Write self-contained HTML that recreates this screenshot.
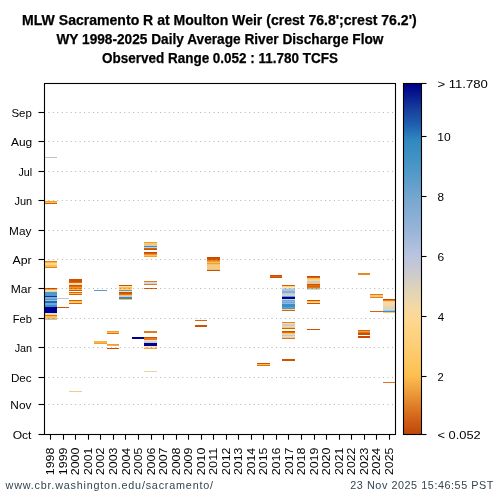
<!DOCTYPE html><html><head><meta charset="utf-8"><style>html,body{margin:0;padding:0;background:#fff;width:500px;height:500px;overflow:hidden}svg{display:block;will-change:transform}text{font-family:"Liberation Sans",sans-serif}</style></head><body>
<svg width="500" height="500" viewBox="0 0 500 500">
<defs><linearGradient id="cb" x1="0" y1="0" x2="0" y2="1" gradientUnits="objectBoundingBox">
<stop offset="0.0014" stop-color="#00008a"/>
<stop offset="0.0385" stop-color="#0a2090"/>
<stop offset="0.0755" stop-color="#1840a0"/>
<stop offset="0.1182" stop-color="#2060b0"/>
<stop offset="0.1610" stop-color="#3088c0"/>
<stop offset="0.2464" stop-color="#4e98c8"/>
<stop offset="0.3319" stop-color="#78a8d0"/>
<stop offset="0.4174" stop-color="#98b4d8"/>
<stop offset="0.4886" stop-color="#b8c4e0"/>
<stop offset="0.5313" stop-color="#c8c8d0"/>
<stop offset="0.5883" stop-color="#e0d4b8"/>
<stop offset="0.6453" stop-color="#f8d8a0"/>
<stop offset="0.6738" stop-color="#fdd890"/>
<stop offset="0.7593" stop-color="#fdcc70"/>
<stop offset="0.8305" stop-color="#fdc050"/>
<stop offset="0.8732" stop-color="#f0a040"/>
<stop offset="0.9160" stop-color="#e08028"/>
<stop offset="0.9587" stop-color="#d06018"/>
<stop offset="0.9986" stop-color="#c04808"/>
</linearGradient></defs>
<rect x="0" y="0" width="500" height="500" fill="#fff"/>
<g font-weight="bold" fill="#000" stroke="#000" stroke-width="0.25">
<text x="22.07" y="24.60" font-size="14.30" textLength="394.63" lengthAdjust="spacingAndGlyphs">MLW Sacramento R at Moulton Weir (crest 76.8';crest 76.2')</text>
<text x="56.47" y="44.10" font-size="14.30" textLength="326.99" lengthAdjust="spacingAndGlyphs">WY 1998-2025 Daily Average River Discharge Flow</text>
<text x="102.03" y="63.10" font-size="14.30" textLength="235.98" lengthAdjust="spacingAndGlyphs">Observed Range 0.052 : 11.780 TCFS</text>
</g>
<rect x="44" y="157" width="13" height="1" fill="#c8c0b8"/>
<rect x="44" y="201" width="13" height="1" fill="#f0a030"/>
<rect x="44" y="202" width="13" height="1" fill="#fdc050"/>
<rect x="44" y="203" width="13" height="1" fill="#d86000"/>
<rect x="44" y="261" width="13" height="1" fill="#e88020"/>
<rect x="44" y="262" width="13" height="1" fill="#fdb848"/>
<rect x="44" y="263" width="13" height="2" fill="#fdd890"/>
<rect x="44" y="265" width="13" height="2" fill="#fdc050"/>
<rect x="44" y="267" width="13" height="1" fill="#e88020"/>
<rect x="44" y="288" width="13" height="1" fill="#d85000"/>
<rect x="44" y="289" width="13" height="1" fill="#f5a030"/>
<rect x="44" y="290" width="13" height="1" fill="#fde0a0"/>
<rect x="44" y="291" width="13" height="1" fill="#c8d8e8"/>
<rect x="44" y="292" width="13" height="4" fill="#5098c8"/>
<rect x="44" y="296" width="13" height="1" fill="#1030a0"/>
<rect x="44" y="297" width="13" height="2" fill="#78b0d8"/>
<rect x="44" y="299" width="13" height="1" fill="#5098c8"/>
<rect x="44" y="300" width="13" height="1" fill="#a0c0e0"/>
<rect x="44" y="301" width="13" height="2" fill="#2068b8"/>
<rect x="44" y="303" width="13" height="2" fill="#70a8d8"/>
<rect x="44" y="305" width="13" height="2" fill="#3a90c8"/>
<rect x="44" y="307" width="13" height="6" fill="#000090"/>
<rect x="44" y="313" width="13" height="1" fill="#d0e0f0"/>
<rect x="44" y="314" width="13" height="1" fill="#fdd890"/>
<rect x="44" y="315" width="13" height="1" fill="#e07010"/>
<rect x="44" y="316" width="13" height="3" fill="#fdc050"/>
<rect x="44" y="319" width="13" height="1" fill="#a8c8e8"/>
<rect x="57" y="298" width="12" height="1" fill="#c8c8c8"/>
<rect x="57" y="307" width="12" height="1" fill="#d05000"/>
<rect x="69" y="279" width="13" height="3" fill="#d05000"/>
<rect x="69" y="282" width="13" height="1" fill="#e06810"/>
<rect x="69" y="283" width="13" height="2" fill="#fde0a0"/>
<rect x="69" y="285" width="13" height="1" fill="#d05000"/>
<rect x="69" y="286" width="13" height="1" fill="#e07018"/>
<rect x="69" y="287" width="13" height="1" fill="#f09030"/>
<rect x="69" y="288" width="13" height="1" fill="#e88020"/>
<rect x="69" y="289" width="13" height="1" fill="#fdc050"/>
<rect x="69" y="290" width="13" height="1" fill="#d05000"/>
<rect x="69" y="292" width="13" height="1" fill="#e06010"/>
<rect x="69" y="293" width="13" height="1" fill="#fdc050"/>
<rect x="69" y="294" width="13" height="1" fill="#d86000"/>
<rect x="69" y="300" width="13" height="1" fill="#d86000"/>
<rect x="69" y="301" width="13" height="1" fill="#fdc060"/>
<rect x="69" y="302" width="13" height="1" fill="#fdd080"/>
<rect x="69" y="303" width="13" height="1" fill="#d86000"/>
<rect x="69" y="391" width="13" height="1" fill="#f5c890"/>
<rect x="94" y="290" width="13" height="1" fill="#5a9ad0"/>
<rect x="94" y="341" width="13" height="2" fill="#f8b444"/>
<rect x="94" y="343" width="13" height="1" fill="#f0a030"/>
<rect x="107" y="331" width="12" height="1" fill="#f0a030"/>
<rect x="107" y="332" width="12" height="1" fill="#fdc050"/>
<rect x="107" y="333" width="12" height="1" fill="#e07010"/>
<rect x="107" y="344" width="12" height="1" fill="#f0a030"/>
<rect x="107" y="345" width="12" height="1" fill="#f5b040"/>
<rect x="107" y="348" width="12" height="1" fill="#d05000"/>
<rect x="119" y="285" width="13" height="1" fill="#d05000"/>
<rect x="119" y="286" width="13" height="1" fill="#fde0b0"/>
<rect x="119" y="287" width="13" height="2" fill="#fdc050"/>
<rect x="119" y="289" width="13" height="1" fill="#fdd080"/>
<rect x="119" y="290" width="13" height="1" fill="#5a9ad0"/>
<rect x="119" y="291" width="13" height="1" fill="#fde0a0"/>
<rect x="119" y="292" width="13" height="1" fill="#c85000"/>
<rect x="119" y="293" width="13" height="1" fill="#d05808"/>
<rect x="119" y="294" width="13" height="1" fill="#e07818"/>
<rect x="119" y="295" width="13" height="1" fill="#fdc060"/>
<rect x="119" y="296" width="13" height="1" fill="#c8d0d8"/>
<rect x="119" y="297" width="13" height="2" fill="#3a88c8"/>
<rect x="119" y="299" width="13" height="1" fill="#fdc040"/>
<rect x="132" y="337" width="12" height="2" fill="#000090"/>
<rect x="144" y="242" width="13" height="1" fill="#f0a030"/>
<rect x="144" y="243" width="13" height="2" fill="#fdc860"/>
<rect x="144" y="245" width="13" height="1" fill="#c8d0d8"/>
<rect x="144" y="246" width="13" height="1" fill="#3a90c8"/>
<rect x="144" y="247" width="13" height="1" fill="#c0d0e0"/>
<rect x="144" y="248" width="13" height="1" fill="#d86010"/>
<rect x="144" y="249" width="13" height="1" fill="#d05000"/>
<rect x="144" y="252" width="13" height="1" fill="#c84800"/>
<rect x="144" y="253" width="13" height="1" fill="#d86010"/>
<rect x="144" y="254" width="13" height="1" fill="#f09030"/>
<rect x="144" y="255" width="13" height="1" fill="#fdc060"/>
<rect x="144" y="256" width="13" height="1" fill="#f5a030"/>
<rect x="144" y="281" width="13" height="1" fill="#e87818"/>
<rect x="144" y="282" width="13" height="1" fill="#d8d8e0"/>
<rect x="144" y="283" width="13" height="1" fill="#c8d8e8"/>
<rect x="144" y="284" width="13" height="1" fill="#e87818"/>
<rect x="144" y="288" width="13" height="1" fill="#d86010"/>
<rect x="144" y="331" width="13" height="2" fill="#e87818"/>
<rect x="144" y="337" width="13" height="1" fill="#d05000"/>
<rect x="144" y="338" width="13" height="2" fill="#e87818"/>
<rect x="144" y="340" width="13" height="1" fill="#f0e0c8"/>
<rect x="144" y="341" width="13" height="1" fill="#d8d8d8"/>
<rect x="144" y="342" width="13" height="1" fill="#c0d0e0"/>
<rect x="144" y="343" width="13" height="3" fill="#000090"/>
<rect x="144" y="346" width="13" height="1" fill="#f8e8c8"/>
<rect x="144" y="347" width="13" height="1" fill="#fde0a0"/>
<rect x="144" y="348" width="13" height="1" fill="#f5a030"/>
<rect x="144" y="371" width="13" height="1" fill="#f0d0a0"/>
<rect x="195" y="320" width="12" height="1" fill="#d86010"/>
<rect x="195" y="325" width="12" height="2" fill="#d05000"/>
<rect x="207" y="257" width="13" height="1" fill="#c84800"/>
<rect x="207" y="258" width="13" height="1" fill="#d05000"/>
<rect x="207" y="259" width="13" height="1" fill="#d86010"/>
<rect x="207" y="260" width="13" height="1" fill="#e88020"/>
<rect x="207" y="261" width="13" height="1" fill="#f0a030"/>
<rect x="207" y="262" width="13" height="1" fill="#fdc050"/>
<rect x="207" y="263" width="13" height="1" fill="#f0a030"/>
<rect x="207" y="264" width="13" height="1" fill="#fdc060"/>
<rect x="207" y="265" width="13" height="1" fill="#d8d0c0"/>
<rect x="207" y="266" width="13" height="2" fill="#fdc870"/>
<rect x="207" y="268" width="13" height="1" fill="#d8d0c0"/>
<rect x="207" y="269" width="13" height="1" fill="#fdc050"/>
<rect x="207" y="270" width="13" height="1" fill="#d05000"/>
<rect x="257" y="363" width="13" height="1" fill="#d05000"/>
<rect x="257" y="364" width="13" height="1" fill="#fdc050"/>
<rect x="257" y="365" width="13" height="1" fill="#e07010"/>
<rect x="270" y="275" width="12" height="1" fill="#d05000"/>
<rect x="270" y="276" width="12" height="1" fill="#e06010"/>
<rect x="270" y="277" width="12" height="1" fill="#d05000"/>
<rect x="282" y="285" width="13" height="1" fill="#d86000"/>
<rect x="282" y="286" width="13" height="1" fill="#fdd080"/>
<rect x="282" y="287" width="13" height="1" fill="#fde8c0"/>
<rect x="282" y="288" width="13" height="1" fill="#d0d8e0"/>
<rect x="282" y="289" width="13" height="2" fill="#a8c4e0"/>
<rect x="282" y="291" width="13" height="2" fill="#80b0d8"/>
<rect x="282" y="293" width="13" height="1" fill="#b8c8d8"/>
<rect x="282" y="294" width="13" height="2" fill="#d0d0d0"/>
<rect x="282" y="296" width="13" height="1" fill="#60a0d0"/>
<rect x="282" y="297" width="13" height="2" fill="#000090"/>
<rect x="282" y="299" width="13" height="1" fill="#c8d8e8"/>
<rect x="282" y="300" width="13" height="1" fill="#70a8d8"/>
<rect x="282" y="301" width="13" height="1" fill="#88b8e0"/>
<rect x="282" y="302" width="13" height="1" fill="#70a8d8"/>
<rect x="282" y="303" width="13" height="1" fill="#90b8e0"/>
<rect x="282" y="304" width="13" height="3" fill="#3890c8"/>
<rect x="282" y="307" width="13" height="1" fill="#60a0d0"/>
<rect x="282" y="308" width="13" height="1" fill="#4898d0"/>
<rect x="282" y="309" width="13" height="1" fill="#fdd890"/>
<rect x="282" y="310" width="13" height="1" fill="#d86000"/>
<rect x="282" y="322" width="13" height="1" fill="#e88020"/>
<rect x="282" y="323" width="13" height="1" fill="#e8dcc8"/>
<rect x="282" y="324" width="13" height="2" fill="#ccccd0"/>
<rect x="282" y="326" width="13" height="1" fill="#e8d8b0"/>
<rect x="282" y="327" width="13" height="1" fill="#fdc860"/>
<rect x="282" y="328" width="13" height="1" fill="#d86000"/>
<rect x="282" y="331" width="13" height="1" fill="#c85000"/>
<rect x="282" y="332" width="13" height="1" fill="#e07010"/>
<rect x="282" y="333" width="13" height="1" fill="#fdc050"/>
<rect x="282" y="334" width="13" height="1" fill="#f0d8b0"/>
<rect x="282" y="335" width="13" height="1" fill="#c0c8d8"/>
<rect x="282" y="336" width="13" height="1" fill="#e8dcc0"/>
<rect x="282" y="337" width="13" height="1" fill="#e0d0b0"/>
<rect x="282" y="338" width="13" height="1" fill="#e07018"/>
<rect x="282" y="359" width="13" height="2" fill="#d05000"/>
<rect x="307" y="276" width="13" height="1" fill="#c84800"/>
<rect x="307" y="277" width="13" height="1" fill="#d86010"/>
<rect x="307" y="278" width="13" height="1" fill="#fdc060"/>
<rect x="307" y="279" width="13" height="1" fill="#fdd080"/>
<rect x="307" y="280" width="13" height="1" fill="#fdd890"/>
<rect x="307" y="281" width="13" height="2" fill="#c8ccd8"/>
<rect x="307" y="283" width="13" height="1" fill="#fdc860"/>
<rect x="307" y="284" width="13" height="1" fill="#d05000"/>
<rect x="307" y="285" width="13" height="1" fill="#e07010"/>
<rect x="307" y="286" width="13" height="1" fill="#d86010"/>
<rect x="307" y="287" width="13" height="1" fill="#e07818"/>
<rect x="307" y="288" width="13" height="1" fill="#90c0e0"/>
<rect x="307" y="289" width="13" height="1" fill="#fdd080"/>
<rect x="307" y="300" width="13" height="1" fill="#d05000"/>
<rect x="307" y="301" width="13" height="1" fill="#fdc050"/>
<rect x="307" y="302" width="13" height="1" fill="#fdd890"/>
<rect x="307" y="303" width="13" height="1" fill="#d05000"/>
<rect x="307" y="329" width="13" height="1" fill="#d05000"/>
<rect x="358" y="273" width="12" height="2" fill="#e88820"/>
<rect x="358" y="330" width="12" height="1" fill="#d86010"/>
<rect x="358" y="331" width="12" height="1" fill="#f5a030"/>
<rect x="358" y="332" width="12" height="1" fill="#e07010"/>
<rect x="358" y="333" width="12" height="2" fill="#c85000"/>
<rect x="358" y="336" width="12" height="2" fill="#c84800"/>
<rect x="370" y="294" width="13" height="1" fill="#e07818"/>
<rect x="370" y="295" width="13" height="2" fill="#fdc870"/>
<rect x="370" y="297" width="13" height="1" fill="#e88020"/>
<rect x="370" y="311" width="13" height="1" fill="#d86010"/>
<rect x="383" y="299" width="12" height="1" fill="#c84800"/>
<rect x="383" y="300" width="12" height="1" fill="#e88020"/>
<rect x="383" y="301" width="12" height="1" fill="#fdc870"/>
<rect x="383" y="302" width="12" height="1" fill="#f0dcc0"/>
<rect x="383" y="303" width="12" height="2" fill="#fdd890"/>
<rect x="383" y="305" width="12" height="1" fill="#f0d8b0"/>
<rect x="383" y="306" width="12" height="4" fill="#e0d4bc"/>
<rect x="383" y="310" width="12" height="1" fill="#a8c8e0"/>
<rect x="383" y="311" width="12" height="1" fill="#3a90d0"/>
<rect x="383" y="312" width="12" height="1" fill="#fdc860"/>
<rect x="383" y="382" width="12" height="1" fill="#e07020"/>
<line x1="48.4" y1="404.50" x2="395" y2="404.50" stroke="#000" stroke-opacity="0.3" stroke-width="1" stroke-dasharray="1 3.462"/>
<line x1="48.4" y1="377.50" x2="395" y2="377.50" stroke="#000" stroke-opacity="0.3" stroke-width="1" stroke-dasharray="1 3.462"/>
<line x1="48.4" y1="347.50" x2="395" y2="347.50" stroke="#000" stroke-opacity="0.3" stroke-width="1" stroke-dasharray="1 3.462"/>
<line x1="48.4" y1="318.50" x2="395" y2="318.50" stroke="#000" stroke-opacity="0.3" stroke-width="1" stroke-dasharray="1 3.462"/>
<line x1="48.4" y1="288.50" x2="395" y2="288.50" stroke="#000" stroke-opacity="0.3" stroke-width="1" stroke-dasharray="1 3.462"/>
<line x1="48.4" y1="259.50" x2="395" y2="259.50" stroke="#000" stroke-opacity="0.3" stroke-width="1" stroke-dasharray="1 3.462"/>
<line x1="48.4" y1="230.50" x2="395" y2="230.50" stroke="#000" stroke-opacity="0.3" stroke-width="1" stroke-dasharray="1 3.462"/>
<line x1="48.4" y1="200.50" x2="395" y2="200.50" stroke="#000" stroke-opacity="0.3" stroke-width="1" stroke-dasharray="1 3.462"/>
<line x1="48.4" y1="171.50" x2="395" y2="171.50" stroke="#000" stroke-opacity="0.3" stroke-width="1" stroke-dasharray="1 3.462"/>
<line x1="48.4" y1="141.50" x2="395" y2="141.50" stroke="#000" stroke-opacity="0.3" stroke-width="1" stroke-dasharray="1 3.462"/>
<line x1="48.4" y1="112.50" x2="395" y2="112.50" stroke="#000" stroke-opacity="0.3" stroke-width="1" stroke-dasharray="1 3.462"/>
<rect x="44.5" y="83.5" width="351.0" height="351.0" fill="none" stroke="#000" stroke-width="1.1"/>
<g fill="#000">
<line x1="38.5" y1="434.50" x2="44.5" y2="434.50" stroke="#000" stroke-width="1.1"/>
<text x="12.69" y="439.10" font-size="11.10" textLength="18.80" lengthAdjust="spacingAndGlyphs">Oct</text>
<line x1="38.5" y1="404.50" x2="44.5" y2="404.50" stroke="#000" stroke-width="1.1"/>
<text x="10.36" y="409.10" font-size="11.10" textLength="21.09" lengthAdjust="spacingAndGlyphs">Nov</text>
<line x1="38.5" y1="377.50" x2="44.5" y2="377.50" stroke="#000" stroke-width="1.1"/>
<text x="10.90" y="382.10" font-size="11.10" textLength="20.80" lengthAdjust="spacingAndGlyphs">Dec</text>
<line x1="38.5" y1="347.50" x2="44.5" y2="347.50" stroke="#000" stroke-width="1.1"/>
<text x="14.64" y="352.10" font-size="11.10" textLength="17.46" lengthAdjust="spacingAndGlyphs">Jan</text>
<line x1="38.5" y1="318.50" x2="44.5" y2="318.50" stroke="#000" stroke-width="1.1"/>
<text x="12.69" y="323.10" font-size="11.10" textLength="19.17" lengthAdjust="spacingAndGlyphs">Feb</text>
<line x1="38.5" y1="288.50" x2="44.5" y2="288.50" stroke="#000" stroke-width="1.1"/>
<text x="10.72" y="293.10" font-size="11.10" textLength="20.88" lengthAdjust="spacingAndGlyphs">Mar</text>
<line x1="38.5" y1="259.50" x2="44.5" y2="259.50" stroke="#000" stroke-width="1.1"/>
<text x="12.43" y="264.10" font-size="11.10" textLength="19.17" lengthAdjust="spacingAndGlyphs">Apr</text>
<line x1="38.5" y1="230.50" x2="44.5" y2="230.50" stroke="#000" stroke-width="1.1"/>
<text x="9.09" y="235.10" font-size="11.10" textLength="22.32" lengthAdjust="spacingAndGlyphs">May</text>
<line x1="38.5" y1="200.50" x2="44.5" y2="200.50" stroke="#000" stroke-width="1.1"/>
<text x="14.42" y="205.10" font-size="11.10" textLength="17.69" lengthAdjust="spacingAndGlyphs">Jun</text>
<line x1="38.5" y1="171.50" x2="44.5" y2="171.50" stroke="#000" stroke-width="1.1"/>
<text x="18.42" y="176.10" font-size="11.10" textLength="13.69" lengthAdjust="spacingAndGlyphs">Jul</text>
<line x1="38.5" y1="141.50" x2="44.5" y2="141.50" stroke="#000" stroke-width="1.1"/>
<text x="10.98" y="146.10" font-size="11.10" textLength="21.17" lengthAdjust="spacingAndGlyphs">Aug</text>
<line x1="38.5" y1="112.50" x2="44.5" y2="112.50" stroke="#000" stroke-width="1.1"/>
<text x="11.47" y="117.10" font-size="11.10" textLength="20.41" lengthAdjust="spacingAndGlyphs">Sep</text>
</g>
<g fill="#000">
<line x1="50.50" y1="434.5" x2="50.50" y2="439.7" stroke="#000" stroke-width="1.1"/>
<g transform="translate(54.34,474.23) rotate(-90)"><text x="-0.94" y="0.00" font-size="11.10" textLength="27.52" lengthAdjust="spacingAndGlyphs">1998</text></g>
<line x1="63.50" y1="434.5" x2="63.50" y2="439.7" stroke="#000" stroke-width="1.1"/>
<g transform="translate(66.88,474.20) rotate(-90)"><text x="-0.94" y="0.00" font-size="11.10" textLength="27.55" lengthAdjust="spacingAndGlyphs">1999</text></g>
<line x1="75.50" y1="434.5" x2="75.50" y2="439.7" stroke="#000" stroke-width="1.1"/>
<g transform="translate(79.41,474.64) rotate(-90)"><text x="-0.62" y="0.00" font-size="11.10" textLength="27.54" lengthAdjust="spacingAndGlyphs">2000</text></g>
<line x1="88.50" y1="434.5" x2="88.50" y2="439.7" stroke="#000" stroke-width="1.1"/>
<g transform="translate(91.95,474.36) rotate(-90)"><text x="-0.62" y="0.00" font-size="11.10" textLength="27.37" lengthAdjust="spacingAndGlyphs">2001</text></g>
<line x1="100.50" y1="434.5" x2="100.50" y2="439.7" stroke="#000" stroke-width="1.1"/>
<g transform="translate(104.49,474.27) rotate(-90)"><text x="-0.61" y="0.00" font-size="11.10" textLength="27.31" lengthAdjust="spacingAndGlyphs">2002</text></g>
<line x1="113.50" y1="434.5" x2="113.50" y2="439.7" stroke="#000" stroke-width="1.1"/>
<g transform="translate(117.02,474.49) rotate(-90)"><text x="-0.62" y="0.00" font-size="11.10" textLength="27.46" lengthAdjust="spacingAndGlyphs">2003</text></g>
<line x1="125.50" y1="434.5" x2="125.50" y2="439.7" stroke="#000" stroke-width="1.1"/>
<g transform="translate(129.56,474.75) rotate(-90)"><text x="-0.62" y="0.00" font-size="11.10" textLength="27.55" lengthAdjust="spacingAndGlyphs">2004</text></g>
<line x1="138.50" y1="434.5" x2="138.50" y2="439.7" stroke="#000" stroke-width="1.1"/>
<g transform="translate(142.09,474.40) rotate(-90)"><text x="-0.61" y="0.00" font-size="11.10" textLength="27.34" lengthAdjust="spacingAndGlyphs">2005</text></g>
<line x1="151.50" y1="434.5" x2="151.50" y2="439.7" stroke="#000" stroke-width="1.1"/>
<g transform="translate(154.63,474.69) rotate(-90)"><text x="-0.62" y="0.00" font-size="11.10" textLength="27.66" lengthAdjust="spacingAndGlyphs">2006</text></g>
<line x1="163.50" y1="434.5" x2="163.50" y2="439.7" stroke="#000" stroke-width="1.1"/>
<g transform="translate(167.16,474.42) rotate(-90)"><text x="-0.62" y="0.00" font-size="11.10" textLength="27.47" lengthAdjust="spacingAndGlyphs">2007</text></g>
<line x1="176.50" y1="434.5" x2="176.50" y2="439.7" stroke="#000" stroke-width="1.1"/>
<g transform="translate(179.70,474.62) rotate(-90)"><text x="-0.62" y="0.00" font-size="11.10" textLength="27.60" lengthAdjust="spacingAndGlyphs">2008</text></g>
<line x1="188.50" y1="434.5" x2="188.50" y2="439.7" stroke="#000" stroke-width="1.1"/>
<g transform="translate(192.24,474.60) rotate(-90)"><text x="-0.62" y="0.00" font-size="11.10" textLength="27.62" lengthAdjust="spacingAndGlyphs">2009</text></g>
<line x1="201.50" y1="434.5" x2="201.50" y2="439.7" stroke="#000" stroke-width="1.1"/>
<g transform="translate(204.77,474.64) rotate(-90)"><text x="-0.62" y="0.00" font-size="11.10" textLength="27.54" lengthAdjust="spacingAndGlyphs">2010</text></g>
<line x1="213.50" y1="434.5" x2="213.50" y2="439.7" stroke="#000" stroke-width="1.1"/>
<g transform="translate(217.31,474.36) rotate(-90)"><text x="-0.64" y="0.00" font-size="11.10" textLength="27.41" lengthAdjust="spacingAndGlyphs">2011</text></g>
<line x1="226.50" y1="434.5" x2="226.50" y2="439.7" stroke="#000" stroke-width="1.1"/>
<g transform="translate(229.84,474.27) rotate(-90)"><text x="-0.61" y="0.00" font-size="11.10" textLength="27.31" lengthAdjust="spacingAndGlyphs">2012</text></g>
<line x1="238.50" y1="434.5" x2="238.50" y2="439.7" stroke="#000" stroke-width="1.1"/>
<g transform="translate(242.38,474.49) rotate(-90)"><text x="-0.62" y="0.00" font-size="11.10" textLength="27.46" lengthAdjust="spacingAndGlyphs">2013</text></g>
<line x1="251.50" y1="434.5" x2="251.50" y2="439.7" stroke="#000" stroke-width="1.1"/>
<g transform="translate(254.91,474.75) rotate(-90)"><text x="-0.62" y="0.00" font-size="11.10" textLength="27.55" lengthAdjust="spacingAndGlyphs">2014</text></g>
<line x1="263.50" y1="434.5" x2="263.50" y2="439.7" stroke="#000" stroke-width="1.1"/>
<g transform="translate(267.45,474.40) rotate(-90)"><text x="-0.61" y="0.00" font-size="11.10" textLength="27.34" lengthAdjust="spacingAndGlyphs">2015</text></g>
<line x1="276.50" y1="434.5" x2="276.50" y2="439.7" stroke="#000" stroke-width="1.1"/>
<g transform="translate(279.99,474.69) rotate(-90)"><text x="-0.62" y="0.00" font-size="11.10" textLength="27.66" lengthAdjust="spacingAndGlyphs">2016</text></g>
<line x1="288.50" y1="434.5" x2="288.50" y2="439.7" stroke="#000" stroke-width="1.1"/>
<g transform="translate(292.52,474.42) rotate(-90)"><text x="-0.62" y="0.00" font-size="11.10" textLength="27.47" lengthAdjust="spacingAndGlyphs">2017</text></g>
<line x1="301.50" y1="434.5" x2="301.50" y2="439.7" stroke="#000" stroke-width="1.1"/>
<g transform="translate(305.06,474.62) rotate(-90)"><text x="-0.62" y="0.00" font-size="11.10" textLength="27.60" lengthAdjust="spacingAndGlyphs">2018</text></g>
<line x1="314.50" y1="434.5" x2="314.50" y2="439.7" stroke="#000" stroke-width="1.1"/>
<g transform="translate(317.59,474.60) rotate(-90)"><text x="-0.62" y="0.00" font-size="11.10" textLength="27.62" lengthAdjust="spacingAndGlyphs">2019</text></g>
<line x1="326.50" y1="434.5" x2="326.50" y2="439.7" stroke="#000" stroke-width="1.1"/>
<g transform="translate(330.13,474.64) rotate(-90)"><text x="-0.62" y="0.00" font-size="11.10" textLength="27.54" lengthAdjust="spacingAndGlyphs">2020</text></g>
<line x1="339.50" y1="434.5" x2="339.50" y2="439.7" stroke="#000" stroke-width="1.1"/>
<g transform="translate(342.66,474.36) rotate(-90)"><text x="-0.62" y="0.00" font-size="11.10" textLength="27.37" lengthAdjust="spacingAndGlyphs">2021</text></g>
<line x1="351.50" y1="434.5" x2="351.50" y2="439.7" stroke="#000" stroke-width="1.1"/>
<g transform="translate(355.20,474.27) rotate(-90)"><text x="-0.61" y="0.00" font-size="11.10" textLength="27.31" lengthAdjust="spacingAndGlyphs">2022</text></g>
<line x1="364.50" y1="434.5" x2="364.50" y2="439.7" stroke="#000" stroke-width="1.1"/>
<g transform="translate(367.74,474.49) rotate(-90)"><text x="-0.62" y="0.00" font-size="11.10" textLength="27.46" lengthAdjust="spacingAndGlyphs">2023</text></g>
<line x1="376.50" y1="434.5" x2="376.50" y2="439.7" stroke="#000" stroke-width="1.1"/>
<g transform="translate(380.27,474.75) rotate(-90)"><text x="-0.62" y="0.00" font-size="11.10" textLength="27.55" lengthAdjust="spacingAndGlyphs">2024</text></g>
<line x1="389.50" y1="434.5" x2="389.50" y2="439.7" stroke="#000" stroke-width="1.1"/>
<g transform="translate(392.81,474.40) rotate(-90)"><text x="-0.61" y="0.00" font-size="11.10" textLength="27.34" lengthAdjust="spacingAndGlyphs">2025</text></g>
</g>
<rect x="403.5" y="83.5" width="18" height="351" fill="url(#cb)" stroke="#000" stroke-width="1.1"/>
<g fill="#000">
<line x1="421.5" y1="83.50" x2="426.5" y2="83.50" stroke="#000" stroke-width="1.1"/>
<text x="437.44" y="88.10" font-size="11.10" textLength="50.46" lengthAdjust="spacingAndGlyphs">&gt; 11.780</text>
<line x1="421.5" y1="136.50" x2="426.5" y2="136.50" stroke="#000" stroke-width="1.1"/>
<text x="437.18" y="141.10" font-size="11.10" textLength="13.44" lengthAdjust="spacingAndGlyphs">10</text>
<line x1="421.5" y1="196.50" x2="426.5" y2="196.50" stroke="#000" stroke-width="1.1"/>
<text x="437.58" y="201.10" font-size="11.10" textLength="6.54" lengthAdjust="spacingAndGlyphs">8</text>
<line x1="421.5" y1="256.50" x2="426.5" y2="256.50" stroke="#000" stroke-width="1.1"/>
<text x="437.50" y="261.10" font-size="11.10" textLength="6.67" lengthAdjust="spacingAndGlyphs">6</text>
<line x1="421.5" y1="316.50" x2="426.5" y2="316.50" stroke="#000" stroke-width="1.1"/>
<text x="437.84" y="321.10" font-size="11.10" textLength="6.46" lengthAdjust="spacingAndGlyphs">4</text>
<line x1="421.5" y1="376.50" x2="426.5" y2="376.50" stroke="#000" stroke-width="1.1"/>
<text x="437.54" y="381.10" font-size="11.10" textLength="6.20" lengthAdjust="spacingAndGlyphs">2</text>
<line x1="421.5" y1="434.50" x2="426.5" y2="434.50" stroke="#000" stroke-width="1.1"/>
<text x="437.46" y="439.10" font-size="11.10" textLength="43.22" lengthAdjust="spacingAndGlyphs">&lt; 0.052</text>
</g>
<g fill="#344550">
<text x="5.62" y="488.90" font-size="10.80" textLength="207.39" lengthAdjust="spacing">www.cbr.washington.edu/sacramento/</text>
<text x="350.26" y="488.70" font-size="10.80" textLength="143.18" lengthAdjust="spacing">23 Nov 2025 15:46:55 PST</text>
</g>
</svg></body></html>
